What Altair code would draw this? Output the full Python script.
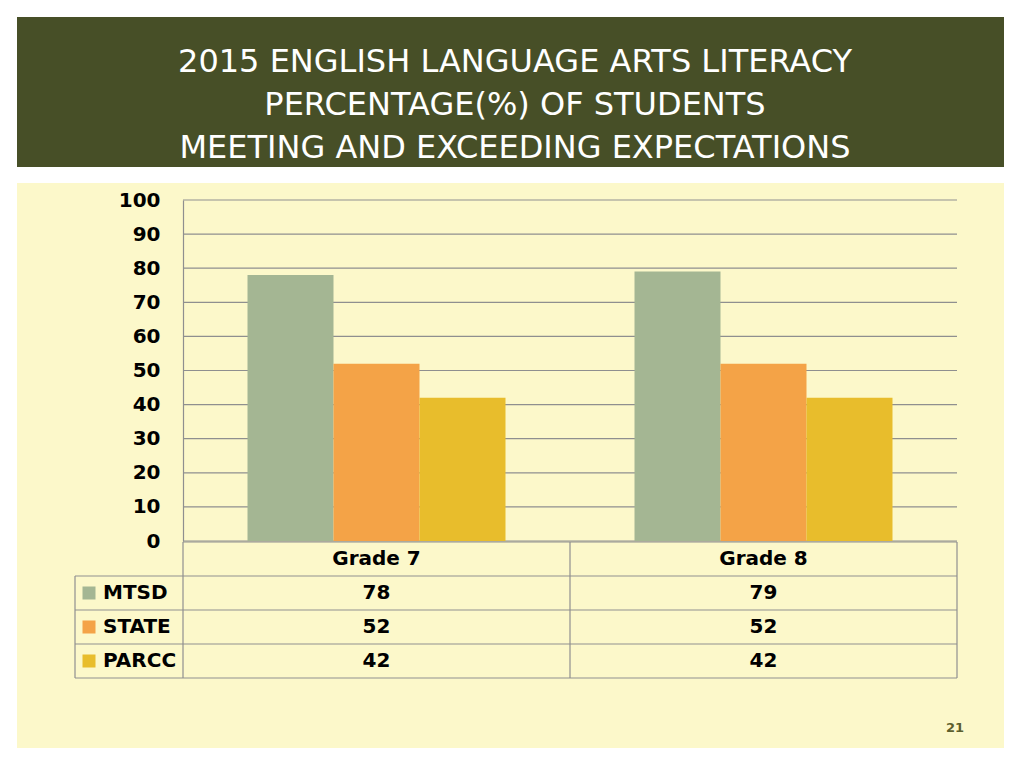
import altair as alt
import pandas as pd

# ---- data ----
title_lines = [
    "2015 ENGLISH LANGUAGE ARTS LITERACY",
    "PERCENTAGE(%) OF STUDENTS",
    "MEETING AND EXCEEDING EXPECTATIONS",
]
grades = ["Grade 7", "Grade 8"]
series = ["MTSD", "STATE", "PARCC"]
mtsd = [78, 79]
state = [52, 52]
parcc = [42, 42]
y_ticks = [0, 10, 20, 30, 40, 50, 60, 70, 80, 90, 100]
page_number = "21"

# ---- styles ----
colors = ["#A4B693", "#F4A347", "#E8BD2C"]
FONT = "DejaVu Sans"
GRID = "#8F8F8F"
PANEL = "#FCF8CA"
BANNER = "#474F27"

vals = {"MTSD": mtsd, "STATE": state, "PARCC": parcc}
rows = []
for si, s in enumerate(series):
    for gi, g in enumerate(grades):
        rows.append({"grade": g, "series": s, "value": vals[s][gi], "row": si + 1})
df = pd.DataFrame(rows)
header_df = pd.DataFrame({"grade": grades, "row": [0] * len(grades)})
legend_df = pd.DataFrame({"series": series, "row": [i + 1 for i in range(len(series))]})
tick_df = pd.DataFrame({"tick": y_ticks})
one = pd.DataFrame({"k": [0]})
nrows = len(series)
hline_all = pd.DataFrame({"r": [i + 0.5 for i in range(nrows + 1)]})
hline_top = pd.DataFrame({"r": [-0.5]})
vspan = pd.DataFrame({"r0": [-0.5], "r1": [nrows + 0.5]})
vspan_leg = pd.DataFrame({"r0": [0.5], "r1": [nrows + 0.5]})

x_scale = alt.Scale(domain=grades, paddingInner=1 / 3, paddingOuter=1 / 6)
y_scale = alt.Scale(domain=[0, 100])
row_scale = alt.Scale(domain=[0, nrows], range=[359, 359 + 34 * nrows])
color_scale = alt.Scale(domain=series, range=colors)

bg = alt.Chart(one).mark_rect(color=PANEL).encode(
    x=alt.value(-166), x2=alt.value(821), y=alt.value(-17), y2=alt.value(548)
)
banner = alt.Chart(one).mark_rect(color=BANNER).encode(
    x=alt.value(-166), x2=alt.value(821), y=alt.value(-183), y2=alt.value(-33)
)
title = alt.Chart(pd.DataFrame({"t": ["\n".join(title_lines)]})).mark_text(
    lineBreak="\n", lineHeight=43, fontSize=32, font=FONT, color="white",
    align="center", baseline="middle"
).encode(x=alt.value(332), y=alt.value(-138), text="t:N")

gridlines = alt.Chart(tick_df).mark_rule(color=GRID, strokeWidth=1.2).encode(
    x=alt.value(0), x2=alt.value(774),
    y=alt.Y("tick:Q", scale=y_scale, axis=None),
)

bars = alt.Chart(df).mark_bar().encode(
    x=alt.X("grade:N", scale=x_scale, axis=None, sort=grades),
    xOffset=alt.XOffset("series:N", sort=series,
                        scale=alt.Scale(domain=series, paddingInner=0, paddingOuter=0)),
    y=alt.Y("value:Q", scale=y_scale,
            axis=alt.Axis(values=y_ticks, title=None, grid=False, zindex=1,
                          domain=True, domainColor=GRID, domainWidth=1.2, ticks=False,
                          labelPadding=23, labelFont=FONT, labelFontSize=20,
                          labelFontWeight="bold", labelColor="#000000")),
    color=alt.Color("series:N", scale=color_scale, legend=None),
)

def rule_h(data, x0, x1):
    return alt.Chart(data).mark_rule(color=GRID, strokeWidth=1.2).encode(
        x=alt.value(x0), x2=alt.value(x1),
        y=alt.Y("r:Q", scale=row_scale, axis=None),
    )

def rule_v(data, xv):
    return alt.Chart(data).mark_rule(color=GRID, strokeWidth=1.2).encode(
        x=alt.value(xv),
        y=alt.Y("r0:Q", scale=row_scale, axis=None), y2="r1:Q",
    )

lines = [
    rule_h(hline_top, 0, 774),
    rule_h(hline_all, -108, 774),
    rule_v(vspan, 0),
    rule_v(vspan, 387),
    rule_v(vspan, 774),
    rule_v(vspan_leg, -108),
]

txt = dict(font=FONT, fontSize=20, fontWeight="bold", color="#000000", baseline="middle")
header_text = alt.Chart(header_df).mark_text(**txt).encode(
    x=alt.X("grade:N", scale=x_scale, axis=None, sort=grades),
    y=alt.Y("row:Q", scale=row_scale, axis=None),
    text="grade:N",
)
value_text = alt.Chart(df).mark_text(**txt).encode(
    x=alt.X("grade:N", scale=x_scale, axis=None, sort=grades),
    y=alt.Y("row:Q", scale=row_scale, axis=None),
    text="value:Q",
)
legend_text = alt.Chart(legend_df).mark_text(align="left", **txt).encode(
    x=alt.value(-80),
    y=alt.Y("row:Q", scale=row_scale, axis=None),
    text="series:N",
)
legend_swatch = alt.Chart(legend_df).mark_square(size=169, opacity=1, filled=True).encode(
    x=alt.value(-94),
    y=alt.Y("row:Q", scale=row_scale, axis=None),
    color=alt.Color("series:N", scale=color_scale, legend=None),
)
page = alt.Chart(pd.DataFrame({"p": [page_number]})).mark_text(
    font=FONT, fontSize=13, fontWeight="bold", color="#5C5F2E", align="center",
    baseline="middle"
).encode(x=alt.value(772), y=alt.value(528), text="p:N")

chart = alt.layer(
    bg, banner, title, gridlines, bars, *lines, header_text, value_text, legend_text,
    legend_swatch, page
).resolve_scale(y="independent").properties(
    width=774, height=341,
    autosize=alt.AutoSizeParams(type="none"),
    padding={"left": 175, "top": 192, "right": 50, "bottom": 210},
    background="white",
).configure_view(stroke=None)

chart.save("out.html", embed_options={"renderer": "svg", "actions": False})
